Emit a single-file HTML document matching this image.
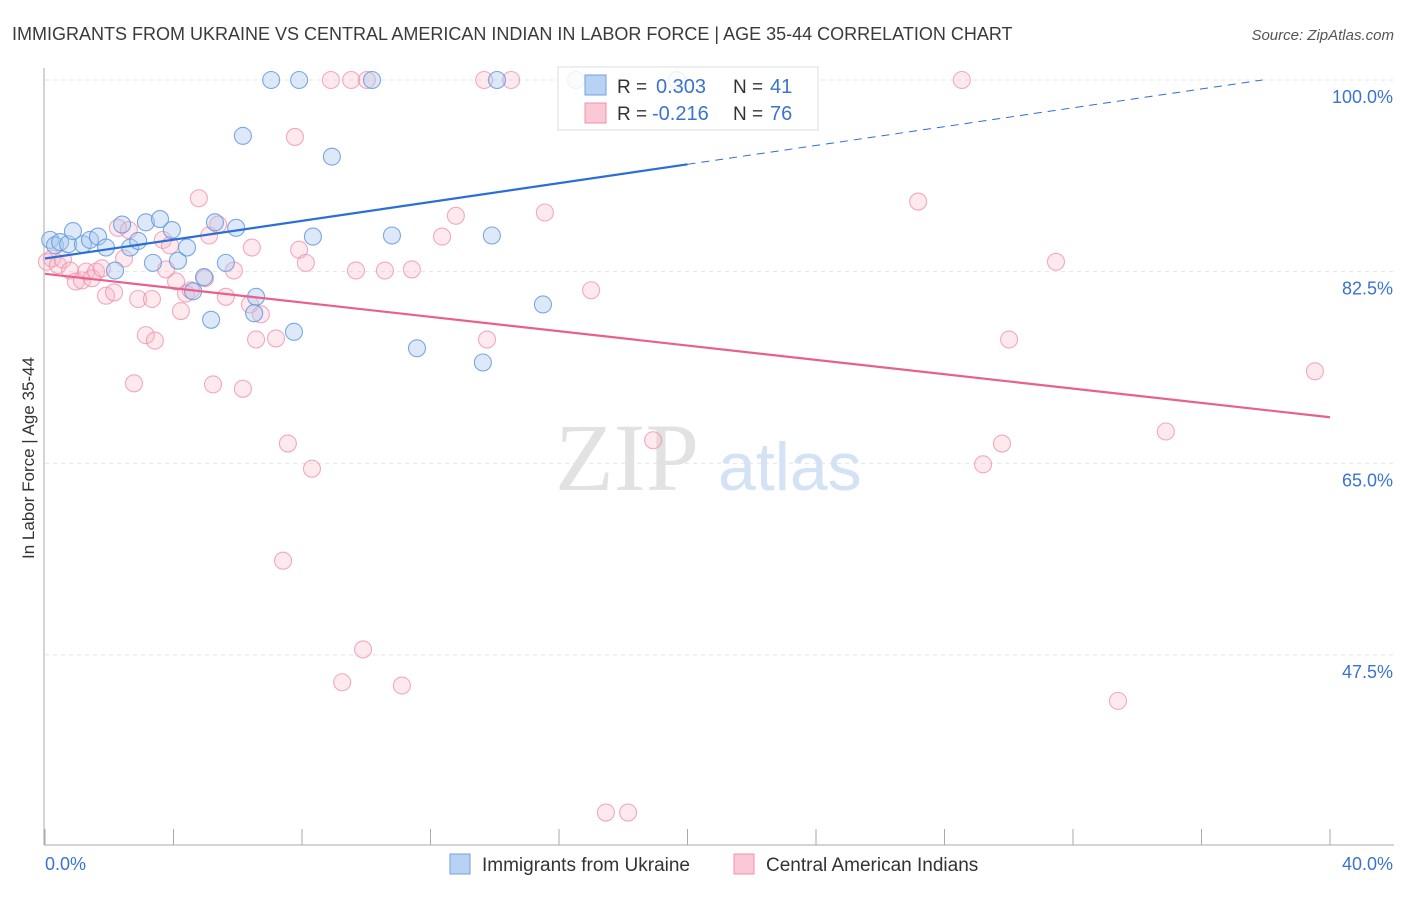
<!DOCTYPE html>
<html><head><meta charset="utf-8"><style>
body{margin:0;background:#fff;width:1406px;height:892px;overflow:hidden;font-family:"Liberation Sans",sans-serif}
</style></head><body>
<svg id="chart" width="1406" height="892" xmlns="http://www.w3.org/2000/svg" font-family="Liberation Sans, sans-serif">
<text x="12" y="40" font-size="18" fill="#3a3a3a">IMMIGRANTS FROM UKRAINE VS CENTRAL AMERICAN INDIAN IN LABOR FORCE | AGE 35-44 CORRELATION CHART</text>
<text x="1394" y="40" font-size="15" fill="#555" text-anchor="end" font-style="italic">Source: ZipAtlas.com</text>
<g id="grid"></g>
<text x="555" y="490" font-size="96" fill="#e2e2e2" font-family="Liberation Serif, serif">ZIP</text>
<text x="718" y="490" font-size="68" fill="#d3e2f5">atlas</text>
<g id="axes"></g>
<g id="pts"></g>
<g id="lines"></g>
<text transform="translate(34,458) rotate(-90)" font-size="17" fill="#333" text-anchor="middle">In Labor Force | Age 35-44</text>
<g>
<rect x="558" y="67" width="260" height="63" fill="#fff" fill-opacity="0.85" stroke="#ddd"/>
<rect x="585" y="75" width="21" height="20" fill="#b8d2f4" stroke="#6fa0e0"/>
<rect x="585" y="103" width="21" height="20" fill="#fbc8d6" stroke="#f090aa"/>
<text x="617" y="93" font-size="19" fill="#333">R = </text><text x="656" y="93" font-size="20" fill="#3a74d0">0.303</text>
<text x="733" y="93" font-size="19" fill="#333">N = </text><text x="770" y="93" font-size="20" fill="#3a74d0">41</text>
<text x="617" y="120" font-size="19" fill="#333">R = </text><text x="652" y="120" font-size="20" fill="#3a74d0">-0.216</text>
<text x="733" y="120" font-size="19" fill="#333">N = </text><text x="770" y="120" font-size="20" fill="#3a74d0">76</text>
</g>
<g>
<rect x="450" y="854" width="20" height="20" fill="#b8d2f4" stroke="#6fa0e0"/>
<text x="482" y="871" font-size="19" fill="#333">Immigrants from Ukraine</text>
<rect x="734" y="854" width="20" height="20" fill="#fbc8d6" stroke="#f090aa"/>
<text x="766" y="871" font-size="19" fill="#333">Central American Indians</text>
</g>
</svg>
<script>
const blueX=[0.16,0.31,0.47,0.72,0.87,1.18,1.40,1.65,1.90,2.18,2.40,2.65,2.90,3.14,3.36,3.58,3.95,4.14,4.42,4.61,4.95,5.17,5.29,5.63,5.95,6.16,6.57,6.51,7.04,7.91,7.75,8.34,8.93,10.18,10.80,11.58,13.63,13.91,14.07,15.50,16.53,19.67];
const blueY=[85.4,84.9,85.2,85.0,86.2,85.0,85.4,85.7,84.7,82.6,86.8,84.7,85.3,87.0,83.3,87.3,86.3,83.5,84.7,80.7,82.0,78.1,87.0,83.3,86.5,94.9,80.2,78.7,100,100,77.0,85.7,93.0,100,85.8,75.5,74.2,85.8,100,79.5,100,100];
const pinkX=[0.06,0.22,0.40,0.56,0.78,0.96,1.15,1.28,1.46,1.59,1.77,1.90,2.15,2.27,2.46,2.61,2.77,2.90,3.14,3.33,3.42,3.67,3.77,3.89,4.08,4.23,4.39,4.54,4.79,4.98,5.11,5.23,5.39,5.63,5.88,6.16,6.38,6.44,6.57,6.72,7.19,7.56,7.41,7.78,7.91,8.12,8.31,8.90,9.25,9.53,9.68,9.90,10.02,10.58,11.11,11.42,12.36,12.79,13.67,13.76,14.51,15.56,17.00,17.46,18.15,18.93,27.18,28.54,29.20,29.79,30.01,31.47,33.40,34.89,39.53];
const pinkY=[83.4,83.7,83.1,83.6,82.6,81.6,81.7,82.5,81.9,82.5,82.8,80.3,80.6,86.5,83.7,86.3,72.3,80.0,76.7,80.0,76.2,85.4,82.7,84.9,81.6,78.9,80.5,80.8,89.2,81.9,85.8,72.2,86.8,80.2,82.6,71.8,79.5,84.7,76.3,78.6,76.4,66.8,56.1,94.8,84.5,83.3,64.5,100,45.0,100,82.6,48.0,100,82.6,44.7,82.7,85.7,87.6,100,76.3,100,87.9,80.8,33.1,33.1,67.1,88.9,100,64.9,66.8,76.3,83.4,43.3,67.9,73.4];
const yTicks=[100,82.5,65,47.5];
const yTickLabels=["100.0%","82.5%","65.0%","47.5%"];
const blueTrend=[[0,83.7],[20,92.3]];
const blueDash=[[20,92.3],[37.9,100]];
const pinkTrend=[[0,82.3],[40,69.2]];
const X=v=>45+v*32.125, Y=v=>80+(100-v)*10.95;
const NS="http://www.w3.org/2000/svg";
function mk(p,t,a){const e=document.createElementNS(NS,t);for(const k in a)e.setAttribute(k,a[k]);p.appendChild(e);return e;}
const grid=document.getElementById('grid'),axes=document.getElementById('axes'),pts=document.getElementById('pts'),lines=document.getElementById('lines');
yTicks.forEach((t,i)=>{
 const g=mk(grid,'line',{x1:45,x2:1394,y1:Y(t),y2:Y(t),stroke:'#e4e4e4','stroke-dasharray':'4,4'});
 
 
 const l=mk(axes,'text',{x:1393,y:Y(t)+23,'font-size':18,fill:'#3a74d0','text-anchor':'end'});
 l.textContent=yTickLabels[i];
 
 
});
const ya=mk(axes,'line',{x1:44,x2:44,y1:68,y2:845,stroke:'#aaa'});


const xa=mk(axes,'line',{x1:44,x2:1394,y1:845,y2:845,stroke:'#aaa'});


for(let v=0;v<=40;v+=4){const t=mk(axes,'line',{x1:X(v),x2:X(v),y1:829,y2:845,stroke:'#aaa'});
 
 }
const x0=mk(axes,'text',{x:45,y:870,'font-size':18,fill:'#3a74d0'});x0.textContent='0.0%';


const x1=mk(axes,'text',{x:1393,y:870,'font-size':18,fill:'#3a74d0','text-anchor':'end'});x1.textContent='40.0%';


pinkX.forEach((x,i)=>{const c=mk(pts,'circle',{cx:X(x),cy:Y(pinkY[i]),r:8.5,fill:'#f7b6c8','fill-opacity':0.3,stroke:'#ee8fab','stroke-opacity':0.75,'stroke-width':1.1});
 
 });
blueX.forEach((x,i)=>{const c=mk(pts,'circle',{cx:X(x),cy:Y(blueY[i]),r:8.5,fill:'#a9c8f0','fill-opacity':0.4,stroke:'#5b93dc','stroke-opacity':0.8,'stroke-width':1.1});
 
 });
const bl=mk(lines,'line',{x1:X(blueTrend[0][0]),y1:Y(blueTrend[0][1]),x2:X(blueTrend[1][0]),y2:Y(blueTrend[1][1]),stroke:'#2a6fd6','stroke-width':2.2});


const bd=mk(lines,'line',{x1:X(blueDash[0][0]),y1:Y(blueDash[0][1]),x2:X(blueDash[1][0]),y2:Y(blueDash[1][1]),stroke:'#2a6fd6','stroke-width':1,'stroke-dasharray':'8,6'});


const pl=mk(lines,'line',{x1:X(pinkTrend[0][0]),y1:Y(pinkTrend[0][1]),x2:X(pinkTrend[1][0]),y2:Y(pinkTrend[1][1]),stroke:'#e8608c','stroke-width':2.2});


</script>
</body></html>
